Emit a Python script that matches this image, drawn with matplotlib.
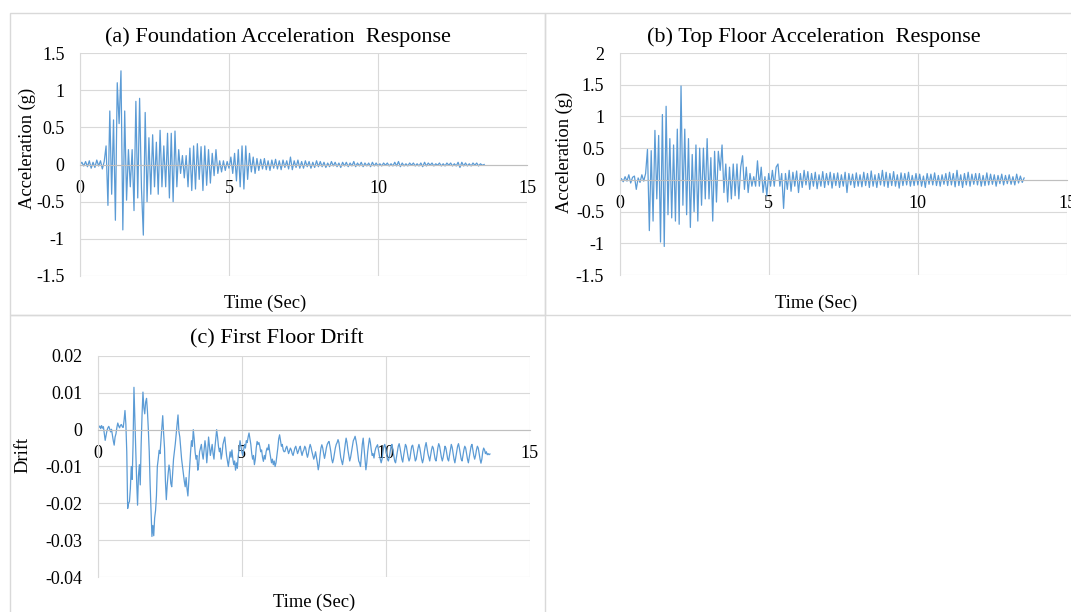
import numpy as np
import matplotlib
matplotlib.use("Agg")
import matplotlib.pyplot as plt
from matplotlib.patches import Rectangle

plt.rcParams.update({
    "font.family": ["Liberation Serif", "DejaVu Serif"],
    "axes.unicode_minus": False,
})

# %%
# digitised records, one value every dt seconds (one row = 1 s)
dt_acc = 0.0625
dt_drift = 0.03125

foundation_acc = [
    0.0, 0.03, -0.02, 0.04, -0.03, 0.05, -0.05, 0.03, -0.04, 0.06, -0.02, 0.05, -0.06, 0.04, 0.25, -0.55,
    0.72, -0.40, 0.60, -0.75, 1.10, 0.55, 1.26, -0.88, 0.72, -0.48, 0.20, -0.30, 0.20, -0.62, 0.85, -0.45,
    0.89, -0.32, -0.95, 0.70, -0.50, 0.36, -0.40, 0.40, -0.30, 0.30, -0.40, 0.46, -0.30, 0.25, -0.30, 0.42,
    -0.45, 0.42, -0.50, 0.45, -0.30, 0.20, -0.12, 0.12, -0.18, 0.12, -0.30, 0.22, -0.35, 0.25, -0.33, 0.28,
    -0.20, 0.24, -0.35, 0.25, -0.28, 0.20, -0.25, 0.15, -0.15, 0.20, -0.12, 0.05, -0.10, 0.05, -0.08, 0.04,
    -0.05, 0.10, -0.12, 0.15, -0.22, 0.20, -0.30, 0.25, -0.33, 0.25, -0.20, 0.15, -0.10, 0.10, -0.12, 0.08,
    -0.08, 0.07, -0.06, 0.08, -0.07, 0.05, -0.08, 0.06, -0.05, 0.07, -0.06, 0.05, -0.07, 0.06, -0.04, 0.05,
    -0.06, 0.10, -0.07, 0.05, -0.04, 0.06, -0.05, 0.04, -0.05, 0.05, -0.03, 0.04, -0.05, 0.03, -0.04, 0.05,
    -0.03, 0.04, -0.03, 0.03, -0.04, 0.02, -0.03, 0.04, -0.02, 0.03, -0.03, 0.02, -0.04, 0.03, -0.02, 0.03,
    -0.03, 0.02, -0.02, 0.04, -0.03, 0.02, -0.02, 0.03, -0.03, 0.02, -0.02, 0.02, -0.03, 0.03, -0.02, 0.02,
    -0.02, 0.01, -0.02, 0.02, -0.01, 0.02, -0.02, 0.01, -0.02, 0.03, -0.02, 0.04, -0.03, 0.02, -0.02, 0.01,
    -0.02, 0.02, -0.01, 0.02, -0.02, 0.01, -0.02, 0.02, -0.03, 0.03, -0.02, 0.02, -0.01, 0.02, -0.02, 0.01,
    -0.01, 0.02, -0.02, 0.01, -0.02, 0.02, -0.01, 0.02, -0.02, 0.01, -0.02, 0.03, -0.04, 0.03, -0.02, 0.02,
    -0.02, 0.01, -0.02, 0.02, -0.01, 0.02, -0.02, 0.01, -0.01, 0.0,
]

top_floor_acc = [
    0.0, 0.02, -0.03, 0.05, -0.02, 0.08, -0.05, 0.04, 0.06, -0.15, 0.03, -0.04, 0.08, -0.02, 0.10, 0.48,
    -0.80, 0.46, -0.65, 0.78, -0.30, 0.70, -0.98, 1.03, -1.05, 1.16, -0.55, 0.65, -0.60, 0.55, -0.65, 0.80,
    -0.70, 1.48, -0.40, 0.80, -0.55, 0.65, -0.75, 0.40, -0.50, 0.55, -0.65, 0.50, -0.40, 0.50, -0.30, 0.65,
    -0.30, 0.35, -0.65, 0.45, -0.35, 0.45, 0.15, 0.55, -0.20, 0.25, -0.35, 0.20, -0.30, 0.25, -0.25, 0.25,
    -0.30, 0.20, 0.38, -0.15, 0.20, -0.20, 0.10, -0.10, 0.05, -0.10, 0.30, -0.10, 0.20, -0.20, 0.05, -0.25,
    0.10, -0.10, 0.15, -0.10, 0.20, 0.25, -0.10, 0.10, -0.45, 0.10, -0.15, 0.15, -0.18, 0.12, -0.10, 0.14,
    -0.20, 0.10, -0.12, 0.15, -0.08, 0.13, -0.15, 0.10, -0.10, 0.12, -0.14, 0.08, -0.10, 0.13, -0.12, 0.10,
    -0.08, 0.12, -0.13, 0.10, -0.09, 0.11, -0.12, 0.08, -0.10, 0.12, -0.20, 0.10, -0.08, 0.09, -0.12, 0.11,
    -0.10, 0.08, -0.11, 0.12, -0.09, 0.10, -0.12, 0.14, -0.10, 0.08, -0.12, 0.10, -0.08, 0.15, -0.10, 0.12,
    -0.12, 0.10, -0.09, 0.13, -0.10, 0.08, -0.13, 0.11, -0.09, 0.10, -0.08, 0.12, -0.10, 0.07, -0.09, 0.10,
    -0.08, 0.09, -0.10, 0.06, -0.12, 0.10, -0.07, 0.09, -0.08, 0.11, -0.09, 0.07, -0.10, 0.08, -0.07, 0.10,
    -0.09, 0.12, -0.08, 0.10, -0.11, 0.15, -0.09, 0.08, -0.12, 0.10, -0.08, 0.12, -0.10, 0.09, -0.07, 0.10,
    -0.08, 0.10, -0.10, 0.07, -0.09, 0.11, -0.08, 0.09, -0.07, 0.08, -0.10, 0.07, -0.06, 0.09, -0.08, 0.07,
    -0.06, 0.08, -0.07, 0.05, -0.08, 0.09, -0.05, 0.06, -0.04, 0.03,
]

first_floor_drift = [
    0.0012, 0.0006, 0.0010, 0.0003, 0.0011, 0.0004, 0.0008, -0.0010, -0.0029, -0.0015, -0.0002, 0.0005, 0.0009, 0.0002, -0.0006, 0.0001,
    -0.0015, -0.0030, -0.0042, -0.0020, -0.0011, 0.0006, 0.0018, 0.0010, 0.0005, 0.0012, 0.0014, 0.0008, 0.0006, 0.0025, 0.0052, 0.0015,
    -0.0060, -0.0214, -0.0200, -0.0195, -0.0160, -0.0100, -0.0135, -0.0040, 0.0115, 0.0030, -0.0060, -0.0140, -0.0205, -0.0125, -0.0095, -0.0150,
    -0.0040, 0.0040, 0.0102, 0.0060, 0.0043, 0.0075, 0.0085, 0.0050, 0.0000, -0.0060, -0.0150, -0.0220, -0.0290, -0.0260, -0.0288, -0.0240,
    -0.0220, -0.0180, -0.0100, -0.0080, -0.0056, -0.0065, -0.0029, 0.0005, 0.0038, -0.0010, -0.0050, -0.0140, -0.0190, -0.0150, -0.0120, -0.0096,
    -0.0110, -0.0146, -0.0155, -0.0120, -0.0080, -0.0060, -0.0038, -0.0010, 0.0015, 0.0040, -0.0005, -0.0020, -0.0050, -0.0080, -0.0100, -0.0120,
    -0.0140, -0.0155, -0.0130, -0.0160, -0.0180, -0.0140, -0.0100, -0.0060, -0.0030, -0.0045, 0.0000, -0.0025, -0.0060, -0.0080, -0.0070, -0.0110,
    -0.0095, -0.0060, -0.0050, -0.0040, -0.0065, -0.0080, -0.0055, -0.0030, -0.0050, -0.0090, -0.0060, -0.0020, -0.0045, -0.0070, -0.0055, -0.0040,
    -0.0065, -0.0080, -0.0050, -0.0025, 0.0000, -0.0020, -0.0045, -0.0060, -0.0050, -0.0080, -0.0065, -0.0040, -0.0030, -0.0020, -0.0045, -0.0070,
    -0.0085, -0.0100, -0.0080, -0.0060, -0.0075, -0.0055, -0.0080, -0.0095, -0.0085, -0.0110, -0.0090, -0.0105, -0.0070, -0.0050, -0.0030, -0.0045,
    -0.0060, -0.0070, -0.0055, -0.0040, -0.0050, -0.0030, -0.0035, -0.0020, -0.0009, -0.0025, -0.0040, -0.0065, -0.0080, -0.0070, -0.0095, -0.0080,
    -0.0050, -0.0032, -0.0040, -0.0035, -0.0045, -0.0060, -0.0055, -0.0075, -0.0086, -0.0070, -0.0080, -0.0060, -0.0050, -0.0055, -0.0040, -0.0060,
    -0.0075, -0.0090, -0.0080, -0.0095, -0.0085, -0.0100, -0.0090, -0.0070, -0.0050, -0.0025, -0.0014, -0.0030, -0.0045, -0.0040, -0.0055, -0.0060,
    -0.0059, -0.0050, -0.0045, -0.0055, -0.0065, -0.0058, -0.0050, -0.0055, -0.0065, -0.0070, -0.0060, -0.0050, -0.0045, -0.0055, -0.0065, -0.0058,
    -0.0050, -0.0045, -0.0060, -0.0070, -0.0060, -0.0055, -0.0045, -0.0050, -0.0065, -0.0075, -0.0065, -0.0050, -0.0040, -0.0048, -0.0060, -0.0070,
    -0.0080, -0.0072, -0.0060, -0.0075, -0.0090, -0.0109, -0.0095, -0.0070, -0.0050, -0.0041, -0.0050, -0.0065, -0.0078, -0.0065, -0.0050, -0.0040,
    -0.0035, -0.0032, -0.0045, -0.0060, -0.0080, -0.0090, -0.0080, -0.0065, -0.0050, -0.0040, -0.0035, -0.0027, -0.0035, -0.0055, -0.0075, -0.0085,
    -0.0095, -0.0080, -0.0060, -0.0040, -0.0023, -0.0035, -0.0055, -0.0070, -0.0085, -0.0075, -0.0060, -0.0045, -0.0030, -0.0025, -0.0018, -0.0030,
    -0.0045, -0.0065, -0.0085, -0.0090, -0.0100, -0.0070, -0.0040, -0.0023, -0.0050, -0.0080, -0.0109, -0.0090, -0.0060, -0.0040, -0.0023, -0.0035,
    -0.0055, -0.0070, -0.0065, -0.0077, -0.0060, -0.0050, -0.0045, -0.0041, -0.0055, -0.0070, -0.0080, -0.0090, -0.0080, -0.0060, -0.0045, -0.0040,
    -0.0050, -0.0065, -0.0080, -0.0085, -0.0075, -0.0060, -0.0045, -0.0040, -0.0055, -0.0070, -0.0085, -0.0090, -0.0075, -0.0060, -0.0045, -0.0038,
    -0.0050, -0.0065, -0.0080, -0.0088, -0.0070, -0.0055, -0.0040, -0.0045, -0.0060, -0.0075, -0.0085, -0.0078, -0.0060, -0.0045, -0.0042, -0.0055,
    -0.0070, -0.0085, -0.0080, -0.0065, -0.0050, -0.0040, -0.0050, -0.0065, -0.0080, -0.0090, -0.0080, -0.0060, -0.0045, -0.0035, -0.0050, -0.0065,
    -0.0075, -0.0085, -0.0070, -0.0055, -0.0045, -0.0050, -0.0065, -0.0080, -0.0085, -0.0070, -0.0050, -0.0038, -0.0045, -0.0060, -0.0075, -0.0085,
    -0.0075, -0.0060, -0.0045, -0.0050, -0.0065, -0.0080, -0.0085, -0.0070, -0.0055, -0.0040, -0.0048, -0.0065, -0.0080, -0.0090, -0.0075, -0.0060,
    -0.0045, -0.0038, -0.0050, -0.0065, -0.0080, -0.0085, -0.0070, -0.0055, -0.0045, -0.0050, -0.0065, -0.0080, -0.0090, -0.0075, -0.0060, -0.0045,
    -0.0040, -0.0055, -0.0070, -0.0080, -0.0070, -0.0055, -0.0045, -0.0050, -0.0065, -0.0080, -0.0091, -0.0080, -0.0060, -0.0050, -0.0055, -0.0065,
    -0.0060, -0.0068, -0.0065, -0.0068, -0.0066,
]

time_ticks = [0, 5, 10, 15]
time_labels = ["0", "5", "10", "15"]
acc_a_ticks = [-1.5, -1, -0.5, 0, 0.5, 1, 1.5]
acc_a_labels = ["-1.5", "-1", "-0.5", "0", "0.5", "1", "1.5"]
acc_b_ticks = [-1.5, -1, -0.5, 0, 0.5, 1, 1.5, 2]
acc_b_labels = ["-1.5", "-1", "-0.5", "0", "0.5", "1", "1.5", "2"]
drift_ticks = [-0.04, -0.03, -0.02, -0.01, 0, 0.01, 0.02]
drift_labels = ["-0.04", "-0.03", "-0.02", "-0.01", "0", "0.01", "0.02"]

# %%
W, H = 1071, 612
fig = plt.figure(figsize=(W / 100, H / 100), dpi=100)
line_color = "#5B9BD5"
grid_color = "#d9d9d9"


def px_axes(x0, x1, ytop, ybot):
    return fig.add_axes([x0 / W, 1 - ybot / H, (x1 - x0) / W, (ybot - ytop) / H])


def px_text(x, y, s, **kw):
    fig.text(x / W, 1 - y / H, s, ha="center", va="center", **kw)


def style_axes(ax, yticks, ylabels):
    ax.set_xlim(time_ticks[0], time_ticks[-1])
    ax.set_ylim(yticks[0], yticks[-1])
    ax.set_xticks(time_ticks, time_labels)
    ax.set_yticks(yticks, ylabels)
    ax.set_axisbelow(True)
    ax.grid(True, color=grid_color, lw=0.8)
    for side in ["top", "right"]:
        ax.spines[side].set_visible(False)
    ax.spines["left"].set_color(grid_color)
    ax.spines["bottom"].set_position(("data", 0))
    ax.spines["bottom"].set_color("#bfbfbf")
    ax.tick_params(length=0, labelsize=13, pad=11)


# frames around each chart
for (x0, y0, x1, y1) in [(9.5, 13, 545, 315), (545, 13, 1080, 315), (9.5, 315, 545, 620)]:
    fig.add_artist(Rectangle((x0 / W, 1 - y1 / H), (x1 - x0) / W, (y1 - y0) / H,
                             transform=fig.transFigure, fill=False,
                             edgecolor=grid_color, lw=1))

panels = [
    (foundation_acc, dt_acc, (80, 527, 53, 276), acc_a_ticks, acc_a_labels,
     "(a) Foundation Acceleration  Response", (278, 37), "Acceleration (g)", (27, 148), (265, 303)),
    (top_floor_acc, dt_acc, (619.5, 1067, 53, 275), acc_b_ticks, acc_b_labels,
     "(b) Top Floor Acceleration  Response", (814, 37), "Acceleration (g)", (564, 152), (816, 303)),
    (first_floor_drift, dt_drift, (98, 529.5, 356, 577), drift_ticks, drift_labels,
     "(c) First Floor Drift", (277, 339), "Drift", (23, 455), (314, 602)),
]

for vals, dt, box, yt, yl, title, tpos, ylab, ypos, xpos in panels:
    ax = px_axes(*box)
    style_axes(ax, yt, yl)
    t = np.arange(len(vals)) * dt
    ax.plot(t, vals, color=line_color, lw=0.9)
    px_text(*tpos, title, fontsize=16)
    px_text(*ypos, ylab, fontsize=13.3, rotation=90)
    px_text(*xpos, "Time (Sec)", fontsize=13.3)

fig.savefig("out.png", dpi=100)
